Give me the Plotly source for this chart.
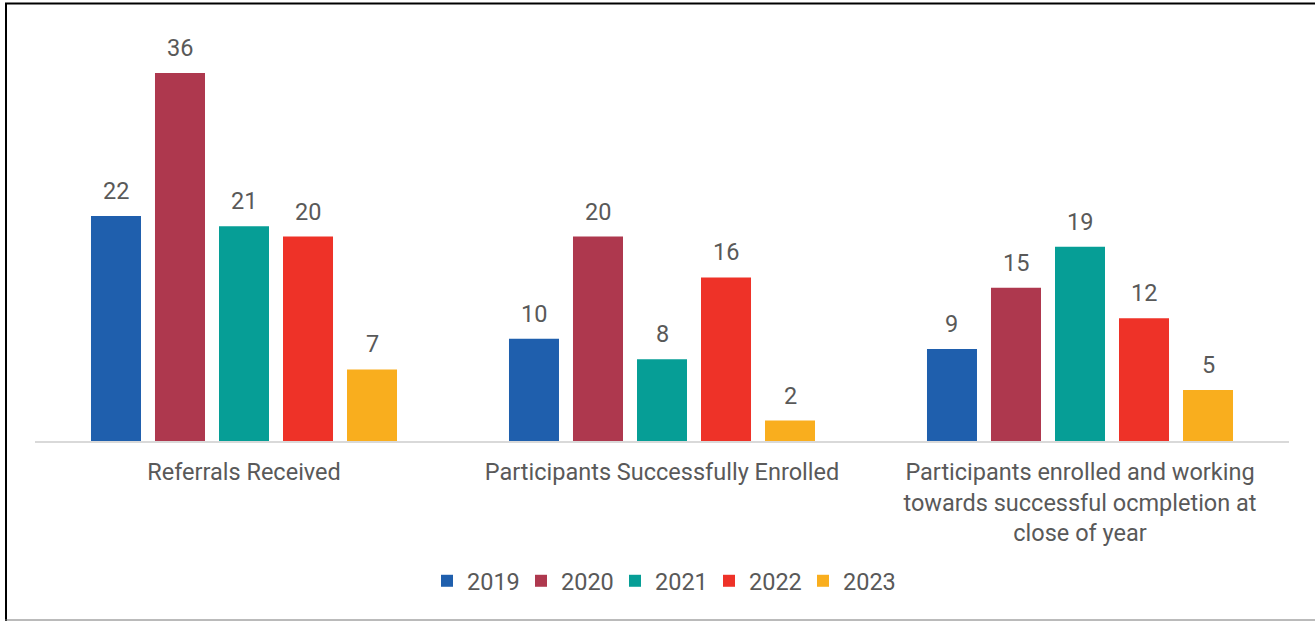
import plotly.graph_objects as go

categories = [
    "Referrals Received",
    "Participants Successfully Enrolled",
    "Participants enrolled and working<br>towards successful ocmpletion at<br>close of year",
]
years = ["2019", "2020", "2021", "2022", "2023"]
values = {
    "2019": [22, 10, 9],
    "2020": [36, 20, 15],
    "2021": [21, 8, 19],
    "2022": [20, 16, 12],
    "2023": [7, 2, 5],
}
colors = {
    "2019": "#1F5FAD",
    "2020": "#AE384E",
    "2021": "#069E96",
    "2022": "#EE3228",
    "2023": "#F9AE1E",
}

TEXT = "#595959"
FONT = "Roboto"
FS = 23.5

L, R, T, B = 35, 26, 20, 180
W, H = 1315, 621
ph = H - T - B
pw = W - L - R
px_per_unit = 368 / 36
slot = pw / 3 * (1 - 0.2344) / len(years)

fig = go.Figure()
for i, y in enumerate(years):
    fig.add_trace(go.Bar(
        name=y, x=categories, y=values[y],
        marker=dict(color=colors[y], line=dict(width=0)),
    ))
    for c, v in zip(categories, values[y]):
        fig.add_annotation(
            x=c, y=v, xref="x", yref="y", text=str(v), showarrow=False,
            xshift=(i - (len(years) - 1) / 2) * slot, yanchor="middle", yshift=25,
            font=dict(size=FS, color=TEXT, family=FONT),
        )

fig.update_layout(
    width=W, height=H,
    margin=dict(l=L, r=R, t=T, b=B, pad=0),
    paper_bgcolor="white", plot_bgcolor="white",
    barmode="group", bargap=0.2344, bargroupgap=0.21875,
    font=dict(family=FONT, size=FS, color=TEXT),
    showlegend=True,
    legend=dict(orientation="h", x=0.5, xanchor="center",
                y=(441 - 581) / ph, yanchor="middle",
                font=dict(size=FS, color=TEXT, family=FONT),
                entrywidth=49, entrywidthmode="pixels",
                itemclick=False, traceorder="normal"),
    xaxis=dict(showline=True, linecolor="#D9D9D9", linewidth=2,
               ticks="", showgrid=False, ticklabelstandoff=9,
               tickfont=dict(size=FS, color=TEXT, family=FONT)),
    yaxis=dict(range=[0, ph / px_per_unit], visible=False, showgrid=False),
)

def px2x(p):
    return (p - L) / pw
def py2y(p):
    return (H - B - p) / ph

fig.add_shape(type="line", xref="paper", yref="paper",
              x0=px2x(6), x1=px2x(6), y0=py2y(3), y1=py2y(621),
              line=dict(color="black", width=2))
fig.add_shape(type="line", xref="paper", yref="paper",
              x0=px2x(5), x1=px2x(1320), y0=py2y(3.5), y1=py2y(3.5),
              line=dict(color="black", width=2))
fig.add_shape(type="line", xref="paper", yref="paper",
              x0=px2x(5), x1=px2x(1320), y0=py2y(620), y1=py2y(620),
              line=dict(color="#777777", width=1))

fig.write_html("out.html")
